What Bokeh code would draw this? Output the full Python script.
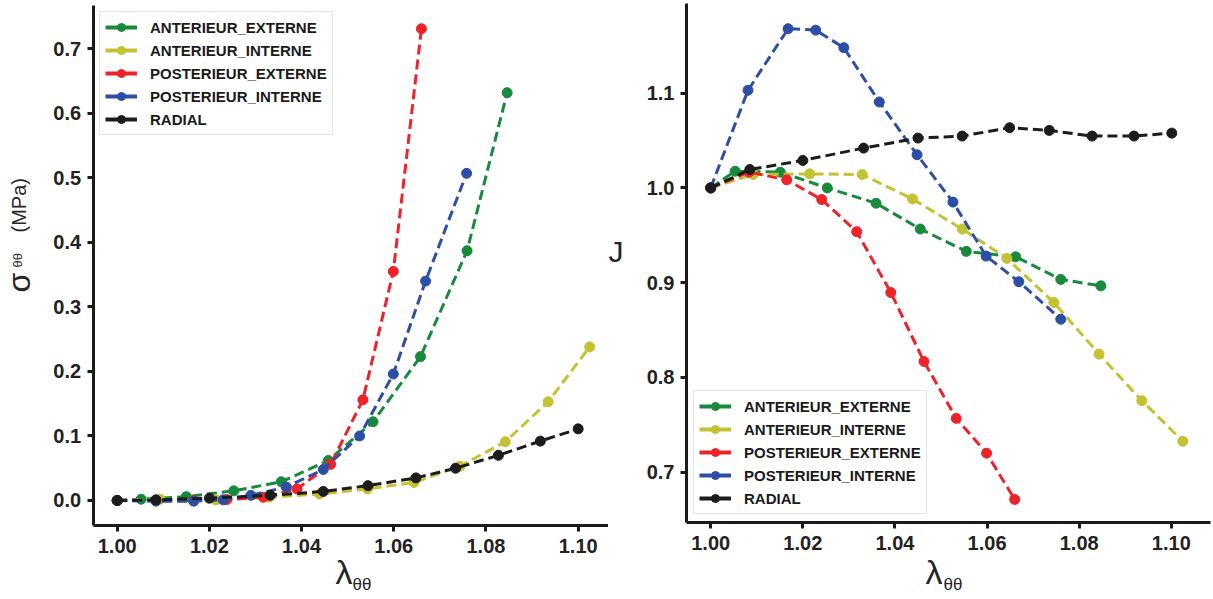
import math
from bokeh.plotting import figure
from bokeh.models import (Range1d, FixedTicker, NumeralTickFormatter, Label,
                          Legend, LegendItem, ColumnDataSource)
from bokeh.layouts import row
from bokeh.embed import file_html
from bokeh.resources import INLINE

series_names = ["ANTERIEUR_EXTERNE", "ANTERIEUR_INTERNE", "POSTERIEUR_EXTERNE",
                "POSTERIEUR_INTERNE", "RADIAL"]
series_colors = ["#178a3c", "#c2c232", "#ee2229", "#2c4fa5", "#1c1c1c"]

# Left panel: stress vs stretch
ae_lam = [1.000, 1.0052, 1.015, 1.0253, 1.0356, 1.0458, 1.0555, 1.0658, 1.0759, 1.0846]
ae_sig = [0.000, 0.002, 0.006, 0.015, 0.029, 0.062, 0.122, 0.223, 0.387, 0.632]
ai_lam = [1.000, 1.0093, 1.0214, 1.0329, 1.0439, 1.0543, 1.0644, 1.0743, 1.0842, 1.0935, 1.1025]
ai_sig = [0.000, 0.002, 0.001, 0.005, 0.010, 0.018, 0.028, 0.053, 0.091, 0.153, 0.238]
pe_lam = [1.000, 1.0166, 1.0238, 1.0317, 1.039, 1.0463, 1.0533, 1.0599, 1.066]
pe_sig = [0.000, 0.000, 0.0015, 0.005, 0.018, 0.056, 0.156, 0.355, 0.731]
pi_lam = [1.000, 1.0084, 1.0166, 1.023, 1.029, 1.0367, 1.0447, 1.0526, 1.0599, 1.0669, 1.0758]
pi_sig = [0.000, -0.001, -0.001, 0.001, 0.008, 0.021, 0.048, 0.100, 0.196, 0.340, 0.507]
ra_lam = [1.000, 1.0084, 1.020, 1.0332, 1.0447, 1.0544, 1.0648, 1.0734, 1.0827, 1.0918, 1.100]
ra_sig = [0.000, 0.001, 0.0036, 0.008, 0.014, 0.023, 0.035, 0.050, 0.070, 0.092, 0.111]

# Right panel: J vs stretch
ae_jlam = [1.000, 1.0053, 1.0151, 1.0253, 1.0359, 1.0455, 1.0555, 1.0662, 1.076, 1.0847]
ae_j = [1.000, 1.0176, 1.0166, 1.000, 0.9838, 0.9566, 0.933, 0.9273, 0.9034, 0.8966]
ai_jlam = [1.000, 1.0092, 1.0215, 1.0329, 1.0438, 1.0546, 1.0643, 1.0745, 1.0843, 1.0936, 1.1025]
ai_j = [1.000, 1.0141, 1.0148, 1.0141, 0.9884, 0.9566, 0.9256, 0.879, 0.8246, 0.7754, 0.7326]
pe_jlam = [1.000, 1.0083, 1.0165, 1.0241, 1.0317, 1.0391, 1.0463, 1.0533, 1.0599, 1.066]
pe_j = [1.000, 1.0166, 1.0085, 0.9877, 0.9538, 0.8896, 0.8168, 0.7568, 0.720, 0.6712]
pi_jlam = [1.000, 1.0081, 1.0168, 1.0228, 1.0289, 1.0366, 1.0448, 1.0526, 1.0598, 1.0669, 1.076]
pi_j = [1.000, 1.103, 1.168, 1.1665, 1.148, 1.0907, 1.035, 0.985, 0.928, 0.901, 0.8614]
ra_jlam = [1.000, 1.0085, 1.020, 1.0332, 1.045, 1.0546, 1.0649, 1.0735, 1.0828, 1.0919, 1.1001]
ra_j = [1.000, 1.0194, 1.029, 1.042, 1.0526, 1.0547, 1.0635, 1.0607, 1.0547, 1.0547, 1.0578]

x_ticks = [1.00, 1.02, 1.04, 1.06, 1.08, 1.10]
sig_ticks = [0.0, 0.1, 0.2, 0.3, 0.4, 0.5, 0.6, 0.7]
j_ticks = [0.7, 0.8, 0.9, 1.0, 1.1]

left_data = [(ae_lam, ae_sig), (ai_lam, ai_sig), (pe_lam, pe_sig), (pi_lam, pi_sig), (ra_lam, ra_sig)]
right_data = [(ae_jlam, ae_j), (ai_jlam, ai_j), (pe_jlam, pe_j), (pi_jlam, pi_j), (ra_jlam, ra_j)]

FONT = "Liberation Sans"
LABEL_COLOR = "#262626"
H = 599


def style_axes(p, xt, yt, x_at, y_at, xb, yb):
    for ax in (p.xaxis[0], p.yaxis[0]):
        ax.axis_line_width = 3
        ax.axis_line_color = "#1a1a1a"
        ax.major_tick_line_width = 3
        ax.major_tick_line_color = "#1a1a1a"
        ax.major_tick_out = 6
        ax.major_tick_in = 0
        ax.minor_tick_line_color = None
        ax.major_label_text_font = FONT
        ax.major_label_text_font_style = "bold"
        ax.major_label_text_font_size = "20px"
        ax.major_label_text_color = "#222222"
    p.xaxis[0].ticker = FixedTicker(ticks=xt)
    p.xaxis[0].formatter = NumeralTickFormatter(format="0.00")
    p.xaxis[0].major_label_standoff = 8
    p.xaxis[0].fixed_location = x_at
    p.xaxis[0].bounds = xb
    p.yaxis[0].ticker = FixedTicker(ticks=yt)
    p.yaxis[0].formatter = NumeralTickFormatter(format="0.0")
    p.yaxis[0].major_label_standoff = 6
    p.yaxis[0].fixed_location = y_at
    p.yaxis[0].bounds = yb
    p.xgrid.visible = False
    p.ygrid.visible = False
    p.outline_line_color = None


def draw_series(p, data, legend_loc):
    items = []
    for name, color, (xs, ys) in zip(series_names, series_colors, data):
        src = ColumnDataSource(dict(x=xs, y=ys))
        p.line("x", "y", source=src, line_color=color, line_width=3, line_dash="10 5")
        sc = p.scatter("x", "y", source=src, size=10, fill_color=color, line_color=color)
        dummy = p.line(x=[float("nan")], y=[float("nan")], line_color=color, line_width=4)
        items.append(LegendItem(label=name, renderers=[dummy, sc]))
    leg = Legend(items=items, location=legend_loc,
                 label_text_font=FONT, label_text_font_style="bold",
                 label_text_font_size="15px", label_text_color="#1a1a1a",
                 glyph_width=32, glyph_height=20, label_height=20,
                 label_standoff=13, spacing=3, padding=5, margin=0,
                 border_line_color="#cccccc", border_line_width=1,
                 background_fill_alpha=1.0)
    p.add_layout(leg)


def add_label(p, text, x, y_top, size, angle=0.0):
    # x, y_top: pixel position (text middle line) from the figure's top-left corner
    p.add_layout(Label(x=x, y=H - y_top, x_units="screen", y_units="screen", text=text,
                       text_font=FONT, text_font_size=size, text_color=LABEL_COLOR,
                       text_align="left", text_baseline="middle", angle=angle))


# ---- left figure (frame fills the figure; axes fixed inside) ----
p1 = figure(width=608, height=H, output_backend="svg", toolbar_location=None,
            x_range=Range1d(0.974685, 1.106580), y_range=Range1d(-0.15342, 0.77483),
            min_border=0)
style_axes(p1, x_ticks, sig_ticks, -0.03874, 0.994772,
           (0.994772, 1.10766), (-0.03874, 0.76708))
draw_series(p1, left_data, (99, H - 135))
add_label(p1, "σ", 18, 292, "32px", math.pi / 2)
add_label(p1, "θθ", 17, 267, "13px", math.pi / 2)
add_label(p1, "(MPa)", 18, 232, "20px", math.pi / 2)
add_label(p1, "λ", 335, 571, "34px")
add_label(p1, "θθ", 352, 584, "17px")

# ---- right figure ----
p2 = figure(width=605, height=H, output_backend="svg", toolbar_location=None,
            x_range=Range1d(0.977811, 1.109162), y_range=Range1d(0.56559, 1.19778),
            min_border=0)
style_axes(p2, x_ticks, j_ticks, 0.64718, 0.994746,
           (0.994746, 1.10852), (0.64718, 1.1943))
draw_series(p2, right_data, (85, H - 514))
add_label(p2, "J", 0, 251, "30px")
add_label(p2, "λ", 317, 571, "34px")
add_label(p2, "θθ", 335, 584, "17px")

layout = row(p1, p2)

open("out.html", "w").write(file_html(layout, INLINE))
